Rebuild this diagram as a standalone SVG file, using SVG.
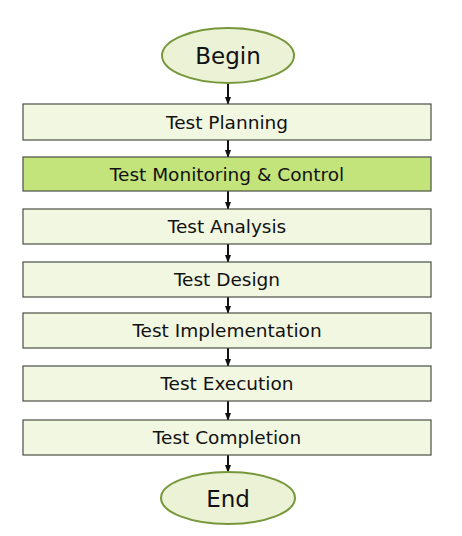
<svg xmlns="http://www.w3.org/2000/svg" width="462" height="536" viewBox="0 0 462 536">
<style>
.box{fill:#f2f7e1;stroke:#4a4f44;stroke-width:1.2}
.hl{fill:#c3e37b;stroke:#4a4f44;stroke-width:1.2}
.ell{fill:#ebf2d6;stroke:#77983a;stroke-width:2}
.t{font-family:"DejaVu Sans",sans-serif;font-size:18.5px;fill:#111;text-anchor:middle;dominant-baseline:central}
.tb{font-family:"DejaVu Sans",sans-serif;font-size:23px;fill:#111;text-anchor:middle;dominant-baseline:central}
.c{stroke:#111;stroke-width:2;fill:none;marker-end:url(#ah)}
</style>
<defs>
<marker id="ah" markerWidth="8" markerHeight="8" refX="7" refY="4" orient="auto" markerUnits="userSpaceOnUse">
<path d="M0,1 L8,4 L0,7 Z" fill="#111"/>
</marker>
</defs>
<rect width="462" height="536" fill="#fff"/>
<g id="connectors">
<line class="c" x1="228" y1="83" x2="228" y2="104"/>
<line class="c" x1="228" y1="140" x2="228" y2="157"/>
<line class="c" x1="228" y1="191" x2="228" y2="209"/>
<line class="c" x1="228" y1="244" x2="228" y2="262"/>
<line class="c" x1="228" y1="297" x2="228" y2="313"/>
<line class="c" x1="228" y1="348" x2="228" y2="366"/>
<line class="c" x1="228" y1="401" x2="228" y2="420"/>
<line class="c" x1="228" y1="455" x2="228" y2="472"/>
</g>
<g id="begin"><ellipse class="ell" cx="228" cy="55.5" rx="66" ry="27.5"/><text class="tb" x="228" y="56">Begin</text></g>
<g id="planning"><rect class="box" x="23" y="104" width="408" height="36"/><text class="t" x="227" y="122">Test Planning</text></g>
<g id="monitoring"><rect class="hl" x="23" y="157" width="408" height="34"/><text class="t" x="227" y="174">Test Monitoring &amp; Control</text></g>
<g id="analysis"><rect class="box" x="23" y="209" width="408" height="35"/><text class="t" x="227" y="226.5">Test Analysis</text></g>
<g id="design"><rect class="box" x="23" y="262" width="408" height="35"/><text class="t" x="227" y="279.5">Test Design</text></g>
<g id="implementation"><rect class="box" x="23" y="313" width="408" height="35"/><text class="t" x="227" y="330.5">Test Implementation</text></g>
<g id="execution"><rect class="box" x="23" y="366" width="408" height="35"/><text class="t" x="227" y="383.5">Test Execution</text></g>
<g id="completion"><rect class="box" x="23" y="420" width="408" height="35"/><text class="t" x="227" y="437.5">Test Completion</text></g>
<g id="end"><ellipse class="ell" cx="228" cy="498" rx="67" ry="26"/><text class="tb" x="228" y="498.5">End</text></g>
</svg>
